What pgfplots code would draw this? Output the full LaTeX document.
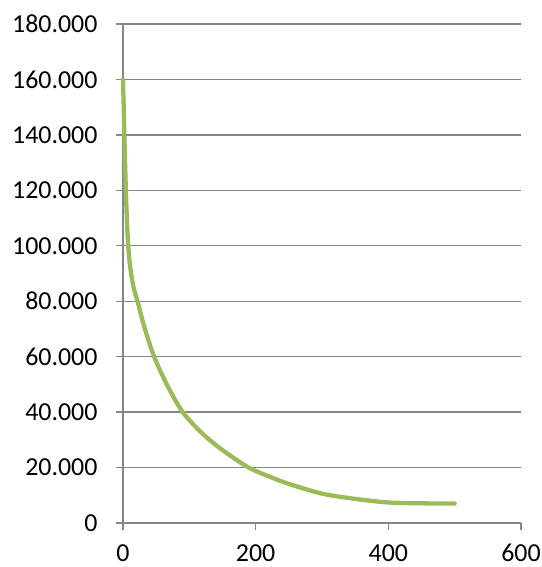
\documentclass[border=0pt]{standalone}
\usepackage{fontspec}
\setmainfont{Carlito}
\usepackage{pgfplots}
\pgfplotsset{compat=1.18}
\definecolor{gridgray}{HTML}{868686}
\definecolor{lineGreen}{HTML}{9BBB59}
\begin{document}
\begin{tikzpicture}
\useasboundingbox (0,0) rectangle (542bp,567bp);
\begin{axis}[
  at={(123bp,44bp)}, anchor=south west,
  scale only axis, width=398bp, height=499bp,
  xmin=0, xmax=600, ymin=0, ymax=180,
  xtick={0,200,400,600}, ytick={0,20,...,180},
  yticklabels={0,20.000,40.000,60.000,80.000,100.000,120.000,140.000,160.000,180.000},
  axis x line*=bottom, axis y line*=left,
  axis line style={gridgray, line width=1.3bp},
  tick style={gridgray, line width=1.3bp},
  tick align=outside, major tick length=7bp,
  ymajorgrids, grid style={gridgray, line width=1.3bp},
  /pgf/number format/assume math mode=true,
  ticklabel style={font=\fontsize{26}{30}\selectfont},
  yticklabel style={xshift=-15bp},
  xticklabel style={inner sep=0pt, yshift=-14bp, /pgf/number format/.cd, fixed, precision=0},
  scaled y ticks=false,
  clip=false,
]
\addplot[lineGreen, line width=4.3bp, line cap=round, line join=round, smooth, tension=0.5] coordinates {
(0,160) (1.5,146) (3,131) (5,115) (7.6,101) (11,92) (16,85) (23,79) (33,70) (47,60) (66,50) (90,40) (120,32.2) (150,26.3) (188,20.2) (220,16.8) (250,14.1) (300,10.6) (350,8.7) (400,7.4) (450,7.1) (500,7)
};
\end{axis}
\end{tikzpicture}
\end{document}
